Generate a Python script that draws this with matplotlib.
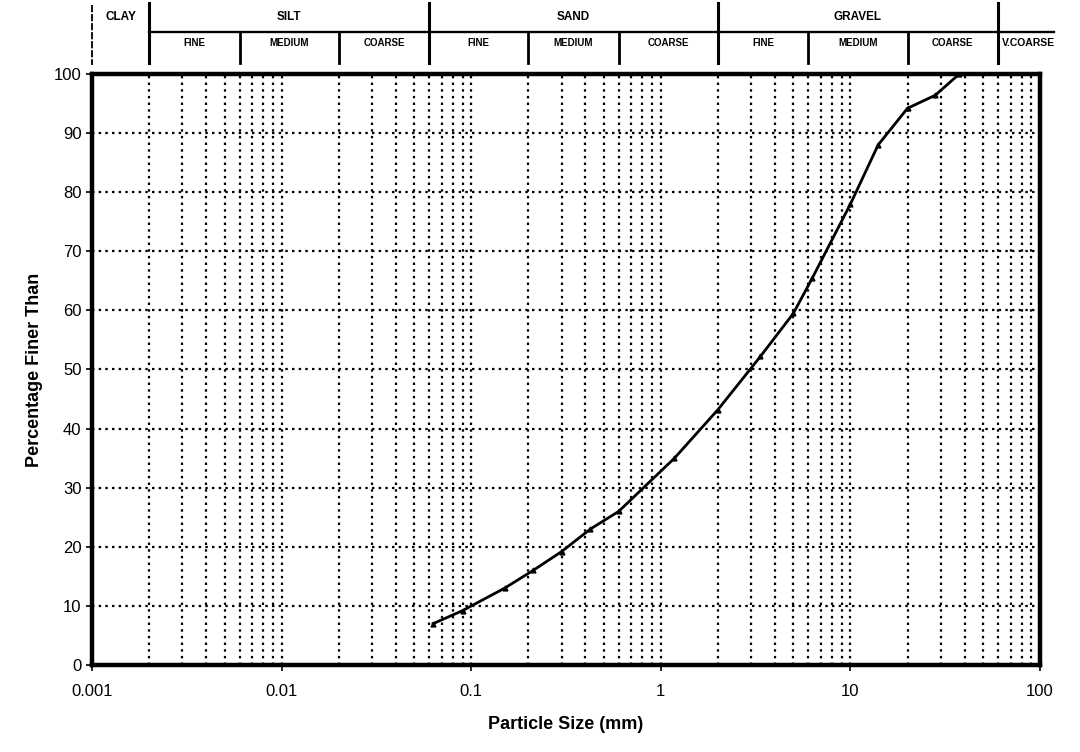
# Particle size distribution chart with soil classification header

import numpy as np
from matplotlib import pyplot as plt
from matplotlib.ticker import FixedLocator, NullFormatter

plt.rcParams['font.family'] = ['Liberation Sans', 'DejaVu Sans']

# sieve data
size_mm = [0.063, 0.09, 0.15, 0.212, 0.3, 0.425, 0.6, 1.18, 2.0, 3.35, 5.0, 6.3, 10.0, 14.0, 20.0, 28.0, 37.5]
pct_finer = [7, 9.2, 13, 16, 19.2, 23, 26, 35, 43.2, 52.2, 59.5, 65.5, 78, 88, 94.2, 96.4, 100]

# classification boundaries (mm)
main_bounds = [0.002, 0.06, 2.0, 60.0]
main_names = ["SILT", "SAND", "GRAVEL"]
sub_bounds = [0.002, 0.006, 0.02, 0.06, 0.2, 0.6, 2.0, 6.0, 20.0, 60.0]
sub_names = ["FINE", "MEDIUM", "COARSE"] * 3

xticks = [0.001, 0.01, 0.1, 1, 10, 100]
xtick_labels = ["0.001", "0.01", "0.1", "1", "10", "100"]
yticks = list(range(0, 101, 10))

# create figure
fig = plt.figure(figsize=(10.8, 7.52), dpi=100)
ax = fig.add_axes([0.0852, 0.1157, 0.8778, 0.7859])
hd = fig.add_axes([0.0852, 0.9016, 0.8778, 0.0984])

# grid
minor = [m * 10.0 ** e for e in range(-3, 2) for m in range(2, 11)]
for xv in minor:
    if xv < 100:
        ax.axvline(xv, color="black", lw=1.6, ls=(0, (1.1, 1.9)), zorder=1)
for yv in yticks[1:-1]:
    ax.axhline(yv, color="black", lw=1.6, ls=(0, (1.1, 1.9)), zorder=1)

# plot the curve
ax.plot(size_mm, pct_finer, color="black", lw=2, marker="^", ms=3.5, zorder=3)

ax.set_xscale("log")
ax.set_xlim(0.001, 100)
ax.set_ylim(0, 100)
ax.xaxis.set_major_locator(FixedLocator(xticks))
ax.set_xticklabels(xtick_labels)
ax.xaxis.set_minor_locator(FixedLocator([]))
ax.xaxis.set_minor_formatter(NullFormatter())
ax.set_yticks(yticks)
ax.tick_params(axis="both", labelsize=12, direction="out", length=4, width=1.2, colors="black")
ax.tick_params(axis="x", pad=10)
for s in ax.spines.values():
    s.set_linewidth(3.2)
    s.set_color("black")

# set labels
ax.set_xlabel("Particle Size (mm)", fontsize=13, fontweight="bold", labelpad=12)
ax.set_ylabel("Percentage Finer Than", fontsize=13, fontweight="bold", labelpad=8)

# header (y in pixels from top of header, 0..74)
hd.set_xscale("log")
hd.set_xlim(0.001, 100)
hd.set_ylim(74, 0)
hd.axis("off")

hd.plot([0.001, 0.001], [5, 65], color="black", lw=1.3, ls=(0, (4, 1)), clip_on=False)
for b in main_bounds:
    hd.plot([b, b], [3, 63], color="black", lw=2.2, clip_on=False)
hd.plot([0.002, 118], [32, 32], color="black", lw=1.7, clip_on=False)
for b in sub_bounds[1:-1]:
    if b not in main_bounds:
        hd.plot([b, b], [32, 63], color="black", lw=2, clip_on=False)

hd.text(np.sqrt(0.001 * 0.002), 17, "CLAY", ha="center", va="center", fontsize=8.5, fontweight="bold")
for i, name in enumerate(main_names):
    xc = np.sqrt(main_bounds[i] * main_bounds[i + 1])
    hd.text(xc, 17, name, ha="center", va="center", fontsize=8.5, fontweight="bold")
for i, name in enumerate(sub_names):
    xc = np.sqrt(sub_bounds[i] * sub_bounds[i + 1])
    hd.text(xc, 43, name, ha="center", va="center", fontsize=7, fontweight="bold")
hd.text(63, 43, "V.COARSE", ha="left", va="center", fontsize=7.5, fontweight="bold", clip_on=False)

# save figure
fig.savefig("out.png", dpi=100)
